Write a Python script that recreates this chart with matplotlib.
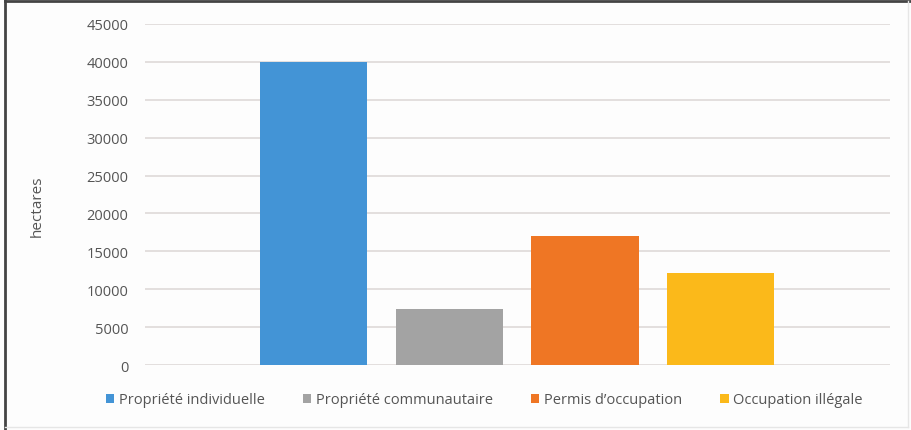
import matplotlib
matplotlib.use("Agg")
import matplotlib.pyplot as plt
from matplotlib.lines import Line2D
from matplotlib.patches import Patch

# Data
categories = ["Propriété individuelle", "Propriété communautaire",
              "Permis d’occupation", "Occupation illégale"]
values = [40000, 7400, 17000, 12100]
colors = ["#4394d6", "#a3a3a3", "#ef7624", "#fbb91a"]
yticks = [0, 5000, 10000, 15000, 20000, 25000, 30000, 35000, 40000, 45000]
ylabel = "hectares"

plt.rcParams['font.family'] = ['Open Sans', 'DejaVu Sans']
W, H = 911, 431
fig = plt.figure(figsize=(W / 100, H / 100), dpi=100)
fig.patch.set_facecolor("#fdfdfd")

ax = fig.add_axes([145 / W, 1 - 366 / H, (890 - 145) / W, (366 - 25) / H])
ax.set_facecolor("#fdfdfd")
x = list(range(len(values)))
ax.bar(x, values, width=0.79, color=colors, zorder=3)
ax.set_xlim(-1.245, 4.25)
ax.set_ylim(0, 45000)
ax.set_yticks(yticks)
ax.set_yticklabels([str(t) for t in yticks], color="#555555", fontsize=10.5)
ax.set_xticks([])
ax.tick_params(axis="y", length=0, pad=12)
ax.grid(axis="y", color="#dedad8", linewidth=1.2, zorder=0)
for s in ax.spines.values():
    s.set_visible(False)

fig.text(37 / W, 1 - 206 / H, ylabel, rotation=90, ha="center", va="center",
         color="#555555", fontsize=11)

handles = [Patch(facecolor=c, edgecolor="none") for c in colors]
fig.legend(handles, categories, loc="center", bbox_to_anchor=(484 / W, 1 - 401 / H),
           ncol=4, frameon=False, fontsize=10.5, labelcolor="#555555",
           handlelength=0.6, handleheight=0.6, handletextpad=0.3, columnspacing=2.6)

# Chart frame
fig.add_artist(Line2D([5 / W, 5 / W], [0, 1 - 1 / H], color="#444444", lw=2, transform=fig.transFigure))
fig.add_artist(Line2D([5 / W, 1], [1 - 2 / H, 1 - 2 / H], color="#444444", lw=2, transform=fig.transFigure))
fig.add_artist(Line2D([908 / W, 908 / W], [3 / H, 1 - 2 / H], color="#e6e6e6", lw=1, transform=fig.transFigure))
fig.add_artist(Line2D([5 / W, 908 / W], [3 / H, 3 / H], color="#e6e6e6", lw=1, transform=fig.transFigure))

fig.savefig("out.png", dpi=100, facecolor=fig.get_facecolor())
